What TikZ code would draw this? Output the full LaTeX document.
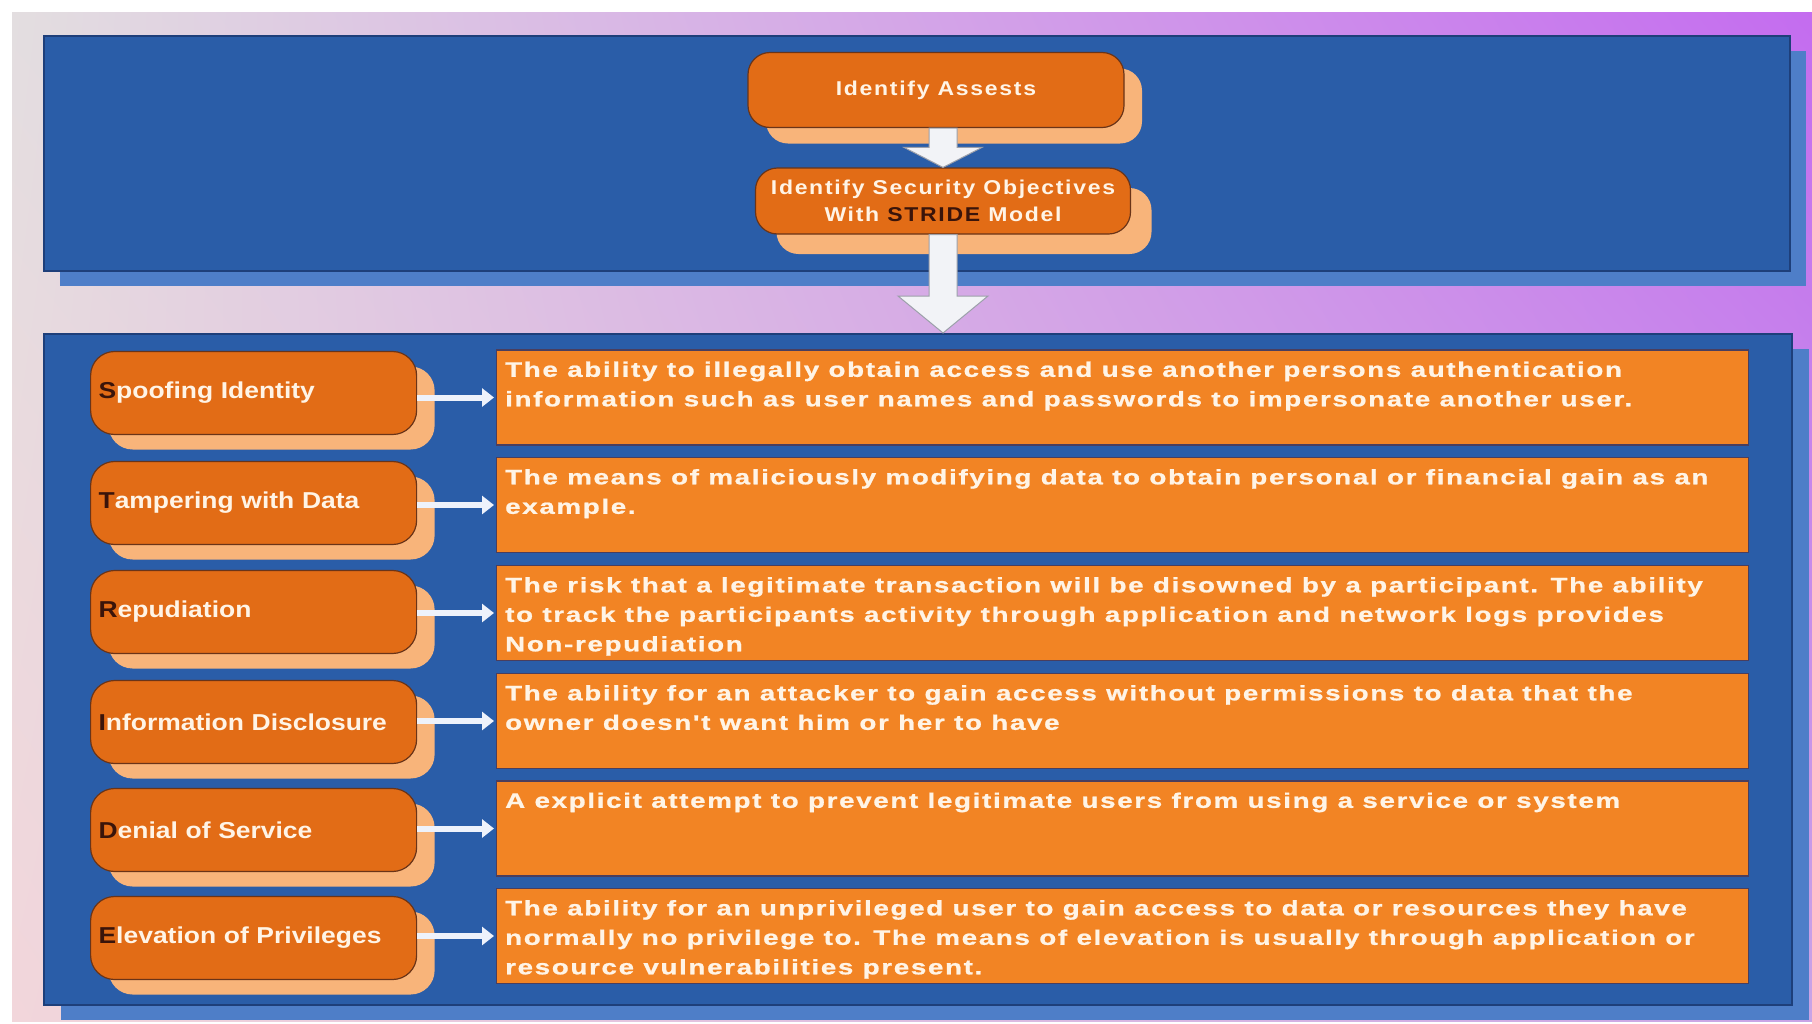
\documentclass[tikz,border=0pt]{standalone}
\usepackage{fontspec}
\setmainfont{Liberation Sans}
\newfontfamily\descfont[FakeStretch=1.32,LetterSpace=8,FakeBold=1]{Liberation Sans}
\newfontfamily\labfont[FakeStretch=1.15]{Liberation Sans}
\newfontfamily\topfont[FakeStretch=1.15,LetterSpace=8.5]{Liberation Sans}
\usetikzlibrary{calc,shadows,shadings,arrows.meta}
\definecolor{bgUL}{HTML}{E3DEE0}
\definecolor{bgUR}{HTML}{C46CEF}
\definecolor{bgLL}{HTML}{F2D6DB}
\definecolor{bgLR}{HTML}{C8A4E6}
\definecolor{panel}{HTML}{2A5DA8}
\definecolor{panelline}{HTML}{1E3F7A}
\definecolor{panelshadow}{HTML}{4E7EC8}
\definecolor{boxorange}{HTML}{E26C16}
\definecolor{boxline}{HTML}{6A3418}
\definecolor{peach}{HTML}{F8B47A}
\definecolor{descorange}{HTML}{F28424}
\definecolor{descline}{HTML}{4A3E5E}
\definecolor{txt}{HTML}{FFF4E6}
\definecolor{initial}{HTML}{3A140A}
\definecolor{arrowline}{HTML}{9CA0AA}
\definecolor{arrowfill}{HTML}{F2F3F7}
\definecolor{linkwhite}{HTML}{EEF2FB}
\begin{document}
\begin{tikzpicture}[x=1pt,y=-1pt,
  panelbox/.style={rectangle, anchor=north west, fill=panel, draw=panelline, line width=1.5pt, inner sep=0pt},
  topbox/.style={rectangle, rounded corners=22pt, fill=boxorange, draw=boxline, line width=1.2pt,
    font=\topfont\bfseries\fontsize{20}{27}\selectfont, text=txt, align=center, inner sep=0pt},
  labbox/.style={rectangle, rounded corners=24pt, fill=boxorange, draw=boxline, line width=1.2pt,
    anchor=west, minimum width=326pt, minimum height=83pt, text width=310pt, inner xsep=8pt, inner ysep=0pt,
    align=left, font=\labfont\bfseries\fontsize{23}{27}\selectfont, text=txt,
    drop shadow={shadow xshift=18pt, shadow yshift=-15pt, fill=peach, opacity=1}},
  descbox/.style={rectangle, anchor=west, fill=descorange, draw=descline, line width=1.2pt,
    minimum width=1252pt, minimum height=95pt, inner sep=0pt},
  desctext/.style={anchor=north west, inner sep=0pt, align=left,
    font=\descfont\bfseries\fontsize{21}{29.5}\selectfont, text=txt},
  blockarrow/.style={fill=arrowfill, draw=arrowline, line width=1pt, line join=miter},
  linkarrow/.style={draw=linkwhite, line width=6pt, -{Triangle[length=12pt,width=18pt]}, shorten >=2pt}
]
\useasboundingbox (0,0) rectangle (1812,1023);
\fill[white] (0,0) rectangle (1812,1023);
\shade[upper left=bgUL, upper right=bgUR, lower left=bgLL, lower right=bgLR] (12,12) rectangle (1812,1021);

% panels
\node[panelbox, minimum width=1746pt, minimum height=235pt,
  drop shadow={shadow xshift=16pt, shadow yshift=-15pt, fill=panelshadow, opacity=1}] (P1) at (43,35) {};
\node[panelbox, minimum width=1748pt, minimum height=671pt,
  drop shadow={shadow xshift=17pt, shadow yshift=-15pt, fill=panelshadow, opacity=1}] (P2) at (43,333) {};

% top boxes
\node[topbox, minimum width=376pt, minimum height=75pt,
  drop shadow={shadow xshift=18pt, shadow yshift=-16pt, fill=peach, opacity=1}] (A1) at (936,90) {Identify Assests};
\node[topbox, minimum width=375pt, minimum height=66pt,
  drop shadow={shadow xshift=21pt, shadow yshift=-20pt, fill=peach, opacity=1}] (A2) at (943,201)
  {Identify Security Objectives\\With {\color{initial}STRIDE} Model};

% block arrows
\coordinate (a1top) at (A2.north |- A1.south);
\filldraw[blockarrow] ($(a1top)+(-14,0)$) -- ($(A2.north)+(-14,-20)$) -- ($(A2.north)+(-39,-20)$) -- (A2.north)
  -- ($(A2.north)+(39,-20)$) -- ($(A2.north)+(14,-20)$) -- ($(a1top)+(14,0)$) -- cycle;
\coordinate (a2tip) at (A2.south |- P2.north);
\filldraw[blockarrow] ($(A2.south)+(-14,0)$) -- ($(a2tip)+(-14,-37)$) -- ($(a2tip)+(-45,-37)$) -- (a2tip)
  -- ($(a2tip)+(45,-37)$) -- ($(a2tip)+(14,-37)$) -- ($(A2.south)+(14,0)$) -- cycle;

% description boxes
\node[descbox] (D1) at (496,397.5) {};
\node[descbox] (D2) at (496,505) {};
\node[descbox] (D3) at (496,613) {};
\node[descbox] (D4) at (496,721) {};
\node[descbox] (D5) at (496,828.5) {};
\node[descbox] (D6) at (496,936) {};

\node[desctext] (T1) at ($(D1.north west)+(9,12)$) {The ability to illegally obtain access and use another persons authentication\\information such as user names and passwords to impersonate another user.};
\node[desctext] (T2) at ($(D2.north west)+(9,12)$) {The means of maliciously modifying data to obtain personal or financial gain as an\\example.};
\node[desctext] (T3) at ($(D3.north west)+(9,12)$) {The risk that a legitimate transaction will be disowned by a participant. The ability\\to track the participants activity through application and network logs provides\\Non-repudiation};
\node[desctext] (T4) at ($(D4.north west)+(9,12)$) {The ability for an attacker to gain access without permissions to data that the\\owner doesn't want him or her to have};
\node[desctext] (T5) at ($(D5.north west)+(9,12)$) {A explicit attempt to prevent legitimate users from using a service or system};
\node[desctext] (T6) at ($(D6.north west)+(9,12)$) {The ability for an unprivileged user to gain access to data or resources they have\\normally no privilege to. The means of elevation is usually through application or\\resource vulnerabilities present.};

% STRIDE label boxes
\node[labbox] (L1) at (90,393) {{\color{initial}S}poofing Identity};
\node[labbox] (L2) at (90,503) {{\color{initial}T}ampering with Data};
\node[labbox] (L3) at (90,612) {{\color{initial}R}epudiation};
\node[labbox] (L4) at (90,722) {{\color{initial}I}nformation Disclosure};
\node[labbox] (L5) at (90,830) {{\color{initial}D}enial of Service};
\node[labbox] (L6) at (90,938) {{\color{initial}E}levation of Privileges};

% links
\foreach \i in {1,...,6}{
  \draw[linkarrow] (L\i.east |- D\i.west) -- (D\i.west);
}
\end{tikzpicture}
\end{document}
